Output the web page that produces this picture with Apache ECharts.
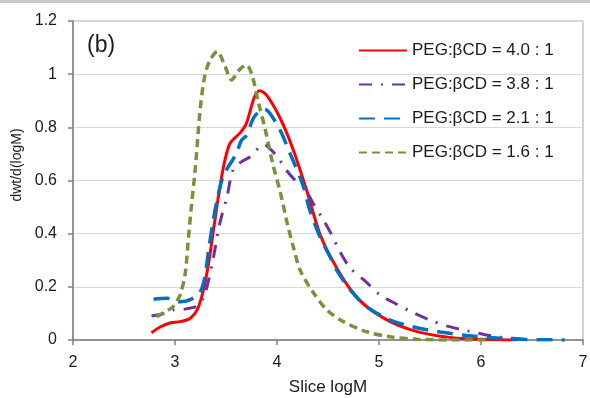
<!DOCTYPE html>
<html>
<head>
<meta charset="utf-8">
<script src="https://cdn.jsdelivr.net/npm/echarts@6/dist/echarts.min.js"></script>
<style>
html,body{margin:0;padding:0;background:#fff;}
#chart{width:590px;height:398px;}
</style>
</head>
<body>
<div id="chart"></div>
<script>
// Data: [logM, dwt/d(logM)]
var seriesNames = ['PEG:\u03B2CD = 4.0 : 1', 'PEG:\u03B2CD = 3.8 : 1', 'PEG:\u03B2CD = 2.1 : 1', 'PEG:\u03B2CD = 1.6 : 1'];

var red40 = [
  [2.77,0.027],[2.85,0.048],[2.95,0.064],[3.05,0.069],[3.15,0.082],[3.22,0.115],[3.28,0.19],
  [3.33,0.29],[3.38,0.42],[3.43,0.55],[3.48,0.66],[3.54,0.74],[3.64,0.78],[3.70,0.815],
  [3.78,0.915],[3.83,0.938],[3.90,0.92],[4.03,0.835],[4.16,0.715],[4.29,0.564],[4.42,0.40],
  [4.55,0.295],[4.72,0.19],[4.88,0.125],[5.11,0.069],[5.30,0.04],[5.47,0.023],[5.76,0.007],
  [6.09,0.002],[6.35,0]
];
var purple38 = [
  [2.77,0.09],[2.90,0.10],[2.98,0.113],[3.11,0.117],[3.23,0.13],[3.29,0.17],[3.33,0.226],
  [3.375,0.307],[3.44,0.44],[3.51,0.54],[3.57,0.64],[3.65,0.67],[3.74,0.69],[3.83,0.727],
  [3.88,0.734],[3.93,0.72],[4.01,0.686],[4.09,0.64],[4.18,0.60],[4.26,0.577],[4.35,0.517],
  [4.45,0.455],[4.53,0.40],[4.62,0.33],[4.72,0.27],[4.86,0.223],[5.01,0.17],[5.17,0.135],
  [5.33,0.104],[5.50,0.075],[5.67,0.052],[5.86,0.035],[6.04,0.02],[6.20,0.01],[6.45,0.002]
];
var blue21 = [
  [2.79,0.153],[2.92,0.157],[3.05,0.144],[3.15,0.152],[3.24,0.176],[3.29,0.232],[3.33,0.34],
  [3.375,0.45],[3.42,0.54],[3.47,0.614],[3.52,0.65],[3.60,0.70],[3.65,0.75],[3.70,0.77],
  [3.77,0.835],[3.83,0.862],[3.88,0.868],[3.93,0.853],[4.03,0.79],[4.13,0.70],[4.26,0.577],
  [4.32,0.49],[4.42,0.389],[4.52,0.313],[4.585,0.263],[4.72,0.188],[4.88,0.125],[5.11,0.075],
  [5.34,0.049],[5.60,0.03],[5.86,0.017],[6.09,0.009],[6.35,0.003],[6.82,0]
];
var green16 = [
  [2.82,0.088],[2.92,0.11],[2.98,0.125],[3.05,0.17],[3.10,0.25],[3.13,0.376],[3.16,0.50],
  [3.20,0.65],[3.245,0.86],[3.29,0.99],[3.34,1.05],[3.415,1.085],[3.49,1.03],[3.555,0.978],
  [3.62,1.012],[3.70,1.035],[3.76,0.99],[3.82,0.89],[3.88,0.80],[3.96,0.66],[4.03,0.56],
  [4.10,0.44],[4.16,0.35],[4.23,0.26],[4.36,0.176],[4.49,0.113],[4.65,0.069],[4.88,0.031],
  [5.11,0.012],[5.37,0.003],[5.70,0],[6.10,0]
];

var xTicks = {min: 2, max: 7, interval: 1};
var yTicks = {min: 0, max: 1.2, interval: 0.2};

var FONT = '"Liberation Sans", Arial, sans-serif';
var chart = echarts.init(document.getElementById('chart'), null, {renderer: 'canvas'});

function lineSeries(name, data, color, width, type) {
  return {
    name: name, type: 'line', data: data, smooth: 0.3,
    symbol: 'none', showSymbol: false,
    lineStyle: {color: color, width: width, type: type},
    itemStyle: {color: color},
    animation: false, z: 3
  };
}

chart.setOption({
  animation: false,
  backgroundColor: '#fff',
  grid: {left: 73, right: 7, top: 21, bottom: 58, containLabel: false, outerBoundsMode: 'none',
         show: true, borderColor: '#a6a6a6', borderWidth: 1, backgroundColor: 'transparent'},
  legend: {
    orient: 'vertical', left: 353, top: 37,
    itemWidth: 48, itemHeight: 14, itemGap: 17,
    itemStyle: {opacity: 0, borderWidth: 0},
    textStyle: {fontFamily: FONT, fontSize: 17, color: '#1a1a1a'},
    data: seriesNames
  },
  xAxis: {
    type: 'value', min: xTicks.min, max: xTicks.max, interval: xTicks.interval,
    name: 'Slice logM', nameLocation: 'middle', nameGap: 39,
    nameTextStyle: {fontFamily: FONT, fontSize: 17, color: '#1a1a1a'},
    axisLine: {show: true, onZero: false, lineStyle: {color: '#7f7f7f', width: 1.5}},
    axisTick: {show: true, inside: false, length: 5, lineStyle: {color: '#7f7f7f', width: 1.5}},
    axisLabel: {fontFamily: FONT, fontSize: 16, color: '#1a1a1a', margin: 15},
    splitLine: {show: false}
  },
  yAxis: {
    type: 'value', min: yTicks.min, max: yTicks.max, interval: yTicks.interval,
    axisLine: {show: true, lineStyle: {color: '#7f7f7f', width: 1.5}},
    axisTick: {show: true, inside: false, length: 5, lineStyle: {color: '#7f7f7f', width: 1.5}},
    axisLabel: {fontFamily: FONT, fontSize: 16, color: '#1a1a1a', margin: 16},
    splitLine: {show: true, lineStyle: {color: '#d9d9d9', width: 1}}
  },
  graphic: [
    {type: 'rect', left: 0, top: 0, shape: {width: 590, height: 3}, style: {fill: '#c8c8c8'}, silent: true},
    {type: 'text', x: 17, y: 165, rotation: Math.PI / 2,
     style: {text: 'dwt/d(logM)', font: '14px ' + FONT, fill: '#1a1a1a', textAlign: 'center', textVerticalAlign: 'middle'}},
    {type: 'text', x: 87, y: 46,
     style: {text: '(b)', font: '23px ' + FONT, fill: '#1a1a1a', textAlign: 'left', textVerticalAlign: 'middle'}}
  ],
  series: [
    lineSeries(seriesNames[0], red40, '#ff0000', 3, 'solid'),
    lineSeries(seriesNames[1], purple38, '#7030a0', 3, [13, 9, 2, 9]),
    lineSeries(seriesNames[2], blue21, '#0070c0', 3.5, [16, 9]),
    lineSeries(seriesNames[3], green16, '#77933c', 3.5, [8, 5])
  ]
});
</script>
</body>
</html>
